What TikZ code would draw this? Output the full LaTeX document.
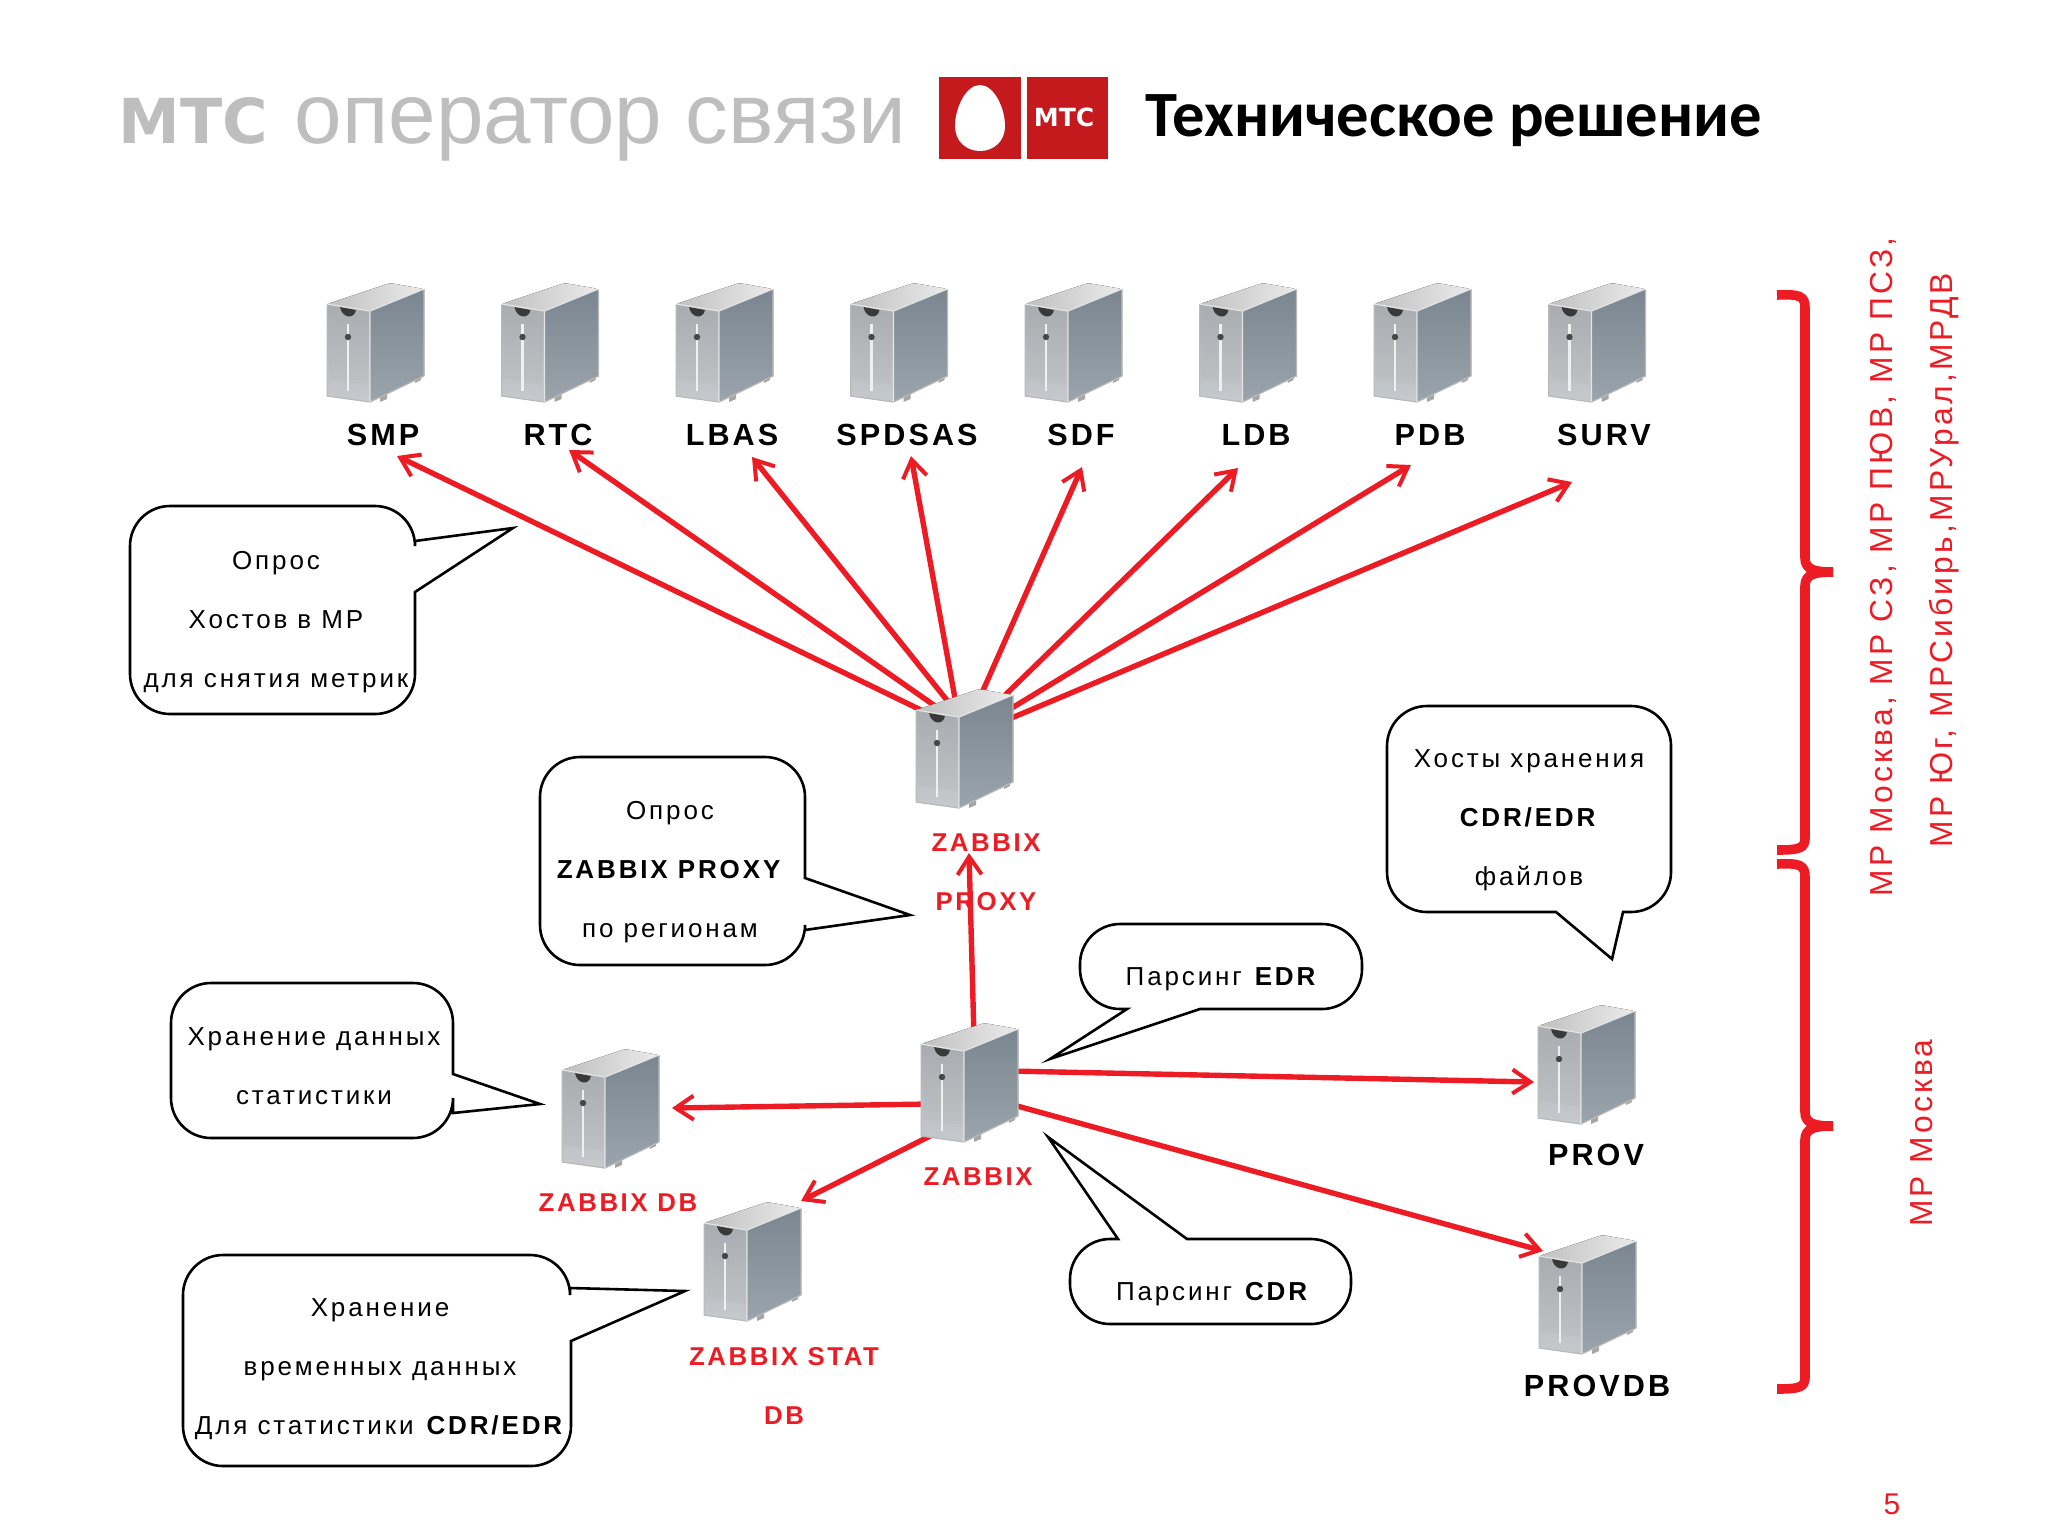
\documentclass[tikz,border=0pt]{standalone}
\usepackage{fontspec}
\usetikzlibrary{arrows.meta,backgrounds,patterns.meta}
\newfontfamily\labelfont[LetterSpace=10]{Liberation Sans}
\newfontfamily\notefont[LetterSpace=11]{Liberation Sans}
\newfontfamily\plainfont{Liberation Sans}
\newfontfamily\dejafont{DejaVu Sans}
\newfontfamily\titlefont{Carlito}
\definecolor{mtsred}{RGB}{237,28,36}
\definecolor{logored}{RGB}{196,26,30}
\definecolor{headgray}{RGB}{190,190,190}
\definecolor{sideface}{RGB}{122,134,144}
\definecolor{frontface}{RGB}{168,173,178}

\begin{document}
\begin{tikzpicture}[x=0.5pt,y=-0.5pt,
					thick,
					node distance=87.25pt,
					server node/.style={inner sep=0pt,minimum width=49.5pt,minimum height=60.5pt,
						path picture={
							\fill[rounded corners=1.5pt,left color=gray!50,right color=gray!15]
								(-49,-39) -- (-6,-32) -- (48,-54) -- (14,-60) -- cycle;
							\fill[top color=sideface,bottom color=sideface!75!white]
								(-6,-32) -- (48,-54) -- (48,33) -- (-6,59) -- cycle;
							\fill[top color=frontface,bottom color=frontface!65!white]
								(-49,-39) -- (-6,-32) -- (-6,59) -- (-49,53) -- cycle;
							\fill[pattern={Dots[distance=1pt,radius=0.25pt]},pattern color=gray!65]
								(-47,-36) -- (-8,-30) -- (-8,42) -- (-47,36) -- cycle;
							\fill[gray!45!black] (-36,-36) .. controls (-34,-25) and (-22,-23) .. (-20,-33) -- cycle;
							\draw[line width=1.3pt,gray!12] (-28,-19) -- (-28,48);
							\fill[gray!55!black] (-28,-6) circle (3.2);
							\fill[gray!70] (4,54) -- (11,51) -- (11,56) -- (4,59) -- cycle;
							\fill[gray!70] (39,37) -- (45,34) -- (45,37) -- (39,40) -- cycle;
							\draw[gray!55,line width=0.6pt,line join=round]
								(-49,-39) -- (-49,53) -- (-6,59) -- (48,33) -- (48,-54);
							\draw[white!80!gray,line width=0.6pt] (-49,-39) -- (-6,-32) -- (-6,59) (-6,-32) -- (48,-54);
							}},
					server label/.style={font=\labelfont\bfseries\fontsize{15.3}{29.5}\selectfont,align=center,inner sep=0pt},
					red label/.style={font=\labelfont\bfseries\fontsize{12.9}{29.5}\selectfont,align=center,inner sep=0pt,text=mtsred},
					bubble text/.style={font=\notefont\fontsize{13}{29.5}\selectfont,align=center,inner sep=0pt},
					bubble/.style={draw=black,line width=1.3pt,line join=miter,rounded corners=20pt},
					side text/.style={font=\labelfont\fontsize{15.9}{18}\selectfont,rotate=90,text=mtsred,inner sep=0pt},
					brace/.style={draw=mtsred,line width=4.8pt},
					link/.style={->,>={Straight Barb[length=9pt,width=12pt,line width=2pt]},color=mtsred,line width=2.7pt}]

  \useasboundingbox (0,0) rectangle (2048,1537);

  % header
  \node[anchor=base west,inner sep=0pt,text=headgray,font=\dejafont\bfseries\fontsize{31}{31}\selectfont] (mtsword) at (118,143) {МТС};
  \node[anchor=base west,inner sep=0pt,text=headgray,font=\plainfont\fontsize{42.7}{43}\selectfont] (operword) at (294,143) {оператор связи};
  \fill[logored] (939,77) rectangle (1021,159);
  \fill[logored] (1027,77) rectangle (1108,159);
  \fill[white] (980,85) .. controls (994,85) and (1005,108) .. (1005,126) .. controls (1005,141) and (994,151) .. (980,151)
    .. controls (966,151) and (955,141) .. (955,126) .. controls (955,108) and (966,85) .. (980,85) -- cycle;
  \node[inner sep=0pt,text=white,font=\dejafont\bfseries\fontsize{12.5}{12.5}\selectfont] (logoword) at (1064,117) {МТС};
  \node[anchor=base west,inner sep=0pt,font=\titlefont\bfseries\fontsize{32.3}{33}\selectfont] (title) at (1145,136) {Техническое решение};

  % top row
  \node[server node] (smp) at (376,343) {};
  \node[server node] (rtc) [right of=smp] {};
  \node[server node] (lbas) [right of=rtc] {};
  \node[server node] (spdsas) [right of=lbas] {};
  \node[server node] (sdf) [right of=spdsas] {};
  \node[server node] (ldb) [right of=sdf] {};
  \node[server node] (pdb) [right of=ldb] {};
  \node[server node] (surv) [right of=pdb] {};

  \node[server label] (smplabel) at (383,435) {SMP};
  \node[server label] (rtclabel) at (558,435) {RTC};
  \node[server label] (lbaslabel) at (732,435) {LBAS};
  \node[server label] (spdsaslabel) at (907,435) {SPDSAS};
  \node[server label] (sdflabel) at (1081,435) {SDF};
  \node[server label] (ldblabel) at (1256,435) {LDB};
  \node[server label] (pdblabel) at (1430,435) {PDB};
  \node[server label] (survlabel) at (1604,435) {SURV};

  % lower servers
  \node[server node] (proxy) at (965,749) {};
  \node[server node] (zabbix) at (970,1083) {};
  \node[server node] (zabbixdb) at (611,1109) {};
  \node[server node] (zabbixstat) at (753,1262) {};
  \node[server node] (prov) at (1587,1065) {};
  \node[server node] (provdb) at (1588,1295) {};

  \node[red label] (proxylabel) at (986,872) {ZABBIX\\PROXY};
  \node[red label] (zabbixlabel) at (978,1177) {ZABBIX};
  \node[red label] (zabbixdblabel) at (618,1203) {ZABBIX DB};
  \node[red label] (zabbixstatlabel) at (784,1386) {ZABBIX STAT\\DB};
  \node[server label] (provlabel) at (1596,1155) {PROV};
  \node[server label] (provdblabel) at (1597,1386) {PROVDB};

  % arrow ends
  \coordinate (smptip) at (397,456);
  \coordinate (rtctip) at (569,450);
  \coordinate (lbastip) at (752,457);
  \coordinate (spdsastip) at (911,456);
  \coordinate (sdftip) at (1082,467);
  \coordinate (ldbtip) at (1238,468);
  \coordinate (pdbtip) at (1411,465);
  \coordinate (survtip) at (1572,482);
  \coordinate (proxytip) at (969,853);
  \coordinate (zabbixdbtip) at (672,1108);
  \coordinate (zabbixstattip) at (801,1201);
  \coordinate (provtip) at (1534,1082);
  \coordinate (provdbtip) at (1543,1251);

  \begin{scope}[on background layer]
  \path[link]
    ([shift={(-40,-37)}]proxy.center) edge (smptip)
    ([shift={(-27,-41)}]proxy.center) edge (rtctip)
    ([shift={(-15,-45)}]proxy.center) edge (lbastip)
    ([shift={(-9,-45)}]proxy.center) edge (spdsastip)
    ([shift={(12,-45)}]proxy.center) edge (sdftip)
    ([shift={(33,-47)}]proxy.center) edge (ldbtip)
    ([shift={(37,-35)}]proxy.center) edge (pdbtip)
    ([shift={(37,-27)}]proxy.center) edge (survtip)
    ([shift={(4,-45)}]zabbix.center) edge (proxytip)
    ([shift={(-40,21)}]zabbix.center) edge (zabbixdbtip)
    ([shift={(-30,48)}]zabbix.center) edge (zabbixstattip)
    ([shift={(40,-12)}]zabbix.center) edge (provtip)
    ([shift={(40,21)}]zabbix.center) edge (provdbtip);
  \end{scope}

  % bubbles
  \node[bubble text] (hostsnote) at (276,622) {Опрос\\Хостов в МР\\для снятия метрик};
  \draw[bubble] (415,541) -- (415,506) -- (130,506) -- (130,714) -- (415,714) [sharp corners] -- (415,592) -- (513,528) -- cycle;

  \node[bubble text] (proxynote) at (670,872) {Опрос\\\textbf{ZABBIX PROXY}\\по регионам};
  \draw[bubble] (805,878) -- (805,757) -- (540,757) -- (540,965) -- (805,965) [sharp corners] -- (805,930) -- (910,915) -- cycle;

  \node[bubble text] (storagenote) at (1529,820) {Хосты хранения\\\textbf{CDR/EDR}\\файлов};
  \draw[bubble] (1556,912) -- (1387,912) -- (1387,706) -- (1671,706) -- (1671,912) [sharp corners] -- (1623,912) -- (1612,959) -- cycle;

  \node[bubble text] (edrnote) at (1222,979) {Парсинг \textbf{EDR}};
  \draw[bubble] (1127,1009) -- (1080,1009) -- (1080,924) -- (1362,924) -- (1362,1009) [sharp corners] -- (1200,1009) -- (1050,1059) -- cycle;

  \node[bubble text] (statnote) at (314,1066) {Хранение данных\\статистики};
  \draw[bubble] (453,1074) -- (453,983) -- (171,983) -- (171,1138) -- (453,1138) [sharp corners] -- (453,1113) -- (540,1104) -- cycle;

  \node[bubble text] (cdrnote) at (1213,1294) {Парсинг \textbf{CDR}};
  \draw[bubble] (1118,1239) -- (1070,1239) -- (1070,1324) -- (1351,1324) -- (1351,1239) [sharp corners] -- (1187,1239) -- (1048,1137) -- cycle;

  \node[bubble text] (tempnote) at (380,1369) {Хранение\\временных данных\\Для статистики \textbf{CDR/EDR}};
  \draw[bubble] (570,1288) -- (570,1255) -- (183,1255) -- (183,1466) -- (571,1466) [sharp corners] -- (571,1341) -- (685,1291) -- cycle;

  % braces
  \draw[brace] (1777,295) .. controls (1800,294) and (1805,296) .. (1805,308) -- (1805,558) .. controls (1805,570) and (1815,572) .. (1833,572);
  \draw[brace] (1833,572) .. controls (1815,572) and (1805,574) .. (1805,586) -- (1805,838) .. controls (1805,848) and (1800,850) .. (1777,850);
  \draw[brace] (1777,864) .. controls (1800,863) and (1805,865) .. (1805,877) -- (1805,1112) .. controls (1805,1124) and (1815,1126) .. (1833,1126);
  \draw[brace] (1833,1126) .. controls (1815,1126) and (1805,1128) .. (1805,1140) -- (1805,1377) .. controls (1805,1387) and (1800,1389) .. (1777,1389);

  \node[side text] (regionsone) at (1883,567) {МР Москва, МР СЗ, МР ПЮВ, МР ПСЗ,};
  \node[side text] (regionstwo) at (1944,560) {МР Юг, МРСибирь,МРУрал,МРДВ};
  \node[side text] (moscow) at (1922,1133) {МР Москва};
  \node[inner sep=0pt,text=mtsred,font=\plainfont\fontsize{15}{15}\selectfont] (pagenum) at (1892,1504) {5};
\end{tikzpicture}
\end{document}
